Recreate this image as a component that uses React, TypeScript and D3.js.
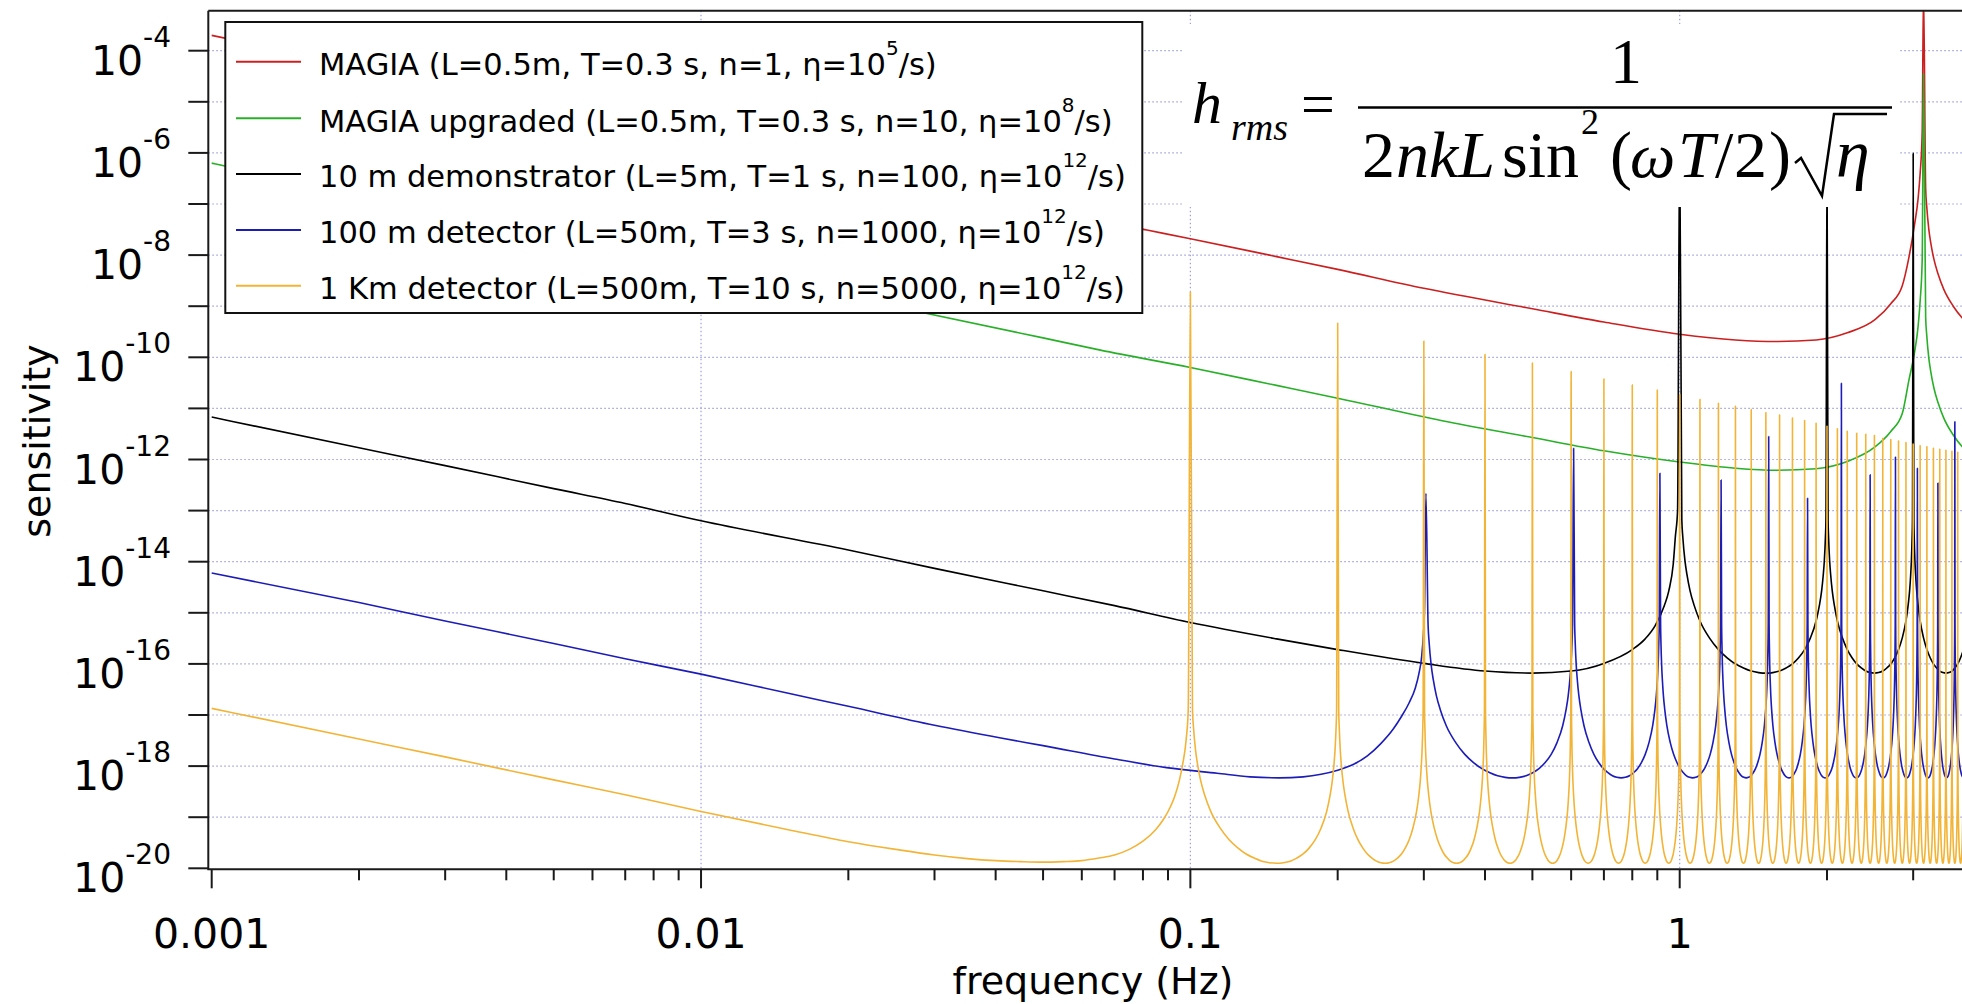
import React from 'react';
import * as d3 from 'd3';

type P = [number, number];

// ---------- tick labels ----------
const xTickValues = [0.001, 0.01, 0.1, 1];
const xTickLabels = ['0.001', '0.01', '0.1', '1'];
const yLabelExps = [-4, -6, -8, -10, -12, -14, -16, -18, -20];
const yTickExps = d3.range(-20, -3);
const yGridExps = d3.range(-19, -3);
const xGridValues = [0.01, 0.1, 1];

// ---------- legend ----------
const seriesNames = [
  'MAGIA (L=0.5m, T=0.3 s, n=1, \u03b7=10',
  'MAGIA upgraded (L=0.5m, T=0.3 s, n=10, \u03b7=10',
  '10 m demonstrator (L=5m, T=1 s, n=100, \u03b7=10',
  '100 m detector (L=50m, T=3 s, n=1000, \u03b7=10',
  '1 Km detector (L=500m, T=10 s, n=5000, \u03b7=10',
];
const seriesSup = ['5', '8', '12', '12', '12'];
const seriesColors = ['#cc2020', '#28b028', '#000000', '#1c1cb8', '#f2b437'];

// ---------- data: [frequency (Hz), log10(sensitivity)] ----------
// shape of one resonance arch: [fraction of peak spacing, rise above valley (decades)]
const archProfile: P[] = [
  [0.01, 3.0], [0.015, 2.65], [0.025, 2.2], [0.035, 1.92], [0.05, 1.61], [0.07, 1.33],
  [0.1, 1.02], [0.15, 0.69], [0.2, 0.46], [0.25, 0.3], [0.3, 0.18], [0.35, 0.1],
  [0.4, 0.04], [0.45, 0.01], [0.5, 0],
];

const redBase: P[] = [
  [0.001, -3.7], [0.002, -4.3], [0.005, -5.1], [0.01, -5.7], [0.02, -6.3], [0.05, -7.1],
  [0.0815, -7.51], [0.1, -7.68], [0.15, -8.03], [0.2, -8.28], [0.3, -8.65], [0.5, -9.05],
  [0.7, -9.31], [1.0, -9.55], [1.3, -9.66], [1.575, -9.69], [1.9, -9.66], [2.2, -9.52],
  [2.51, -9.26], [2.7, -8.95], [2.85, -8.6], [2.94, -8.05], [3.02, -7.4], [3.07, -6.9],
  [3.1, -6.4], [3.13, -5.6],
];
const redPeaks: P[] = [[3.15, -2.8], [6.3, -3.0]];
const redValley = -9.69;

const greenBase: P[] = [
  [0.001, -6.2], [0.002, -6.82], [0.005, -7.62], [0.01, -8.22], [0.02, -8.82], [0.05, -9.62],
  [0.0655, -9.86], [0.1, -10.2], [0.15, -10.55], [0.2, -10.8], [0.327, -11.24], [0.5, -11.57],
  [0.7, -11.83], [1.0, -12.05], [1.3, -12.17], [1.575, -12.21], [1.9, -12.18], [2.2, -12.04],
  [2.51, -11.75], [2.7, -11.45], [2.85, -11.1], [2.94, -10.45], [3.02, -9.9], [3.07, -9.4],
  [3.1, -8.9], [3.13, -8.1],
];
const greenPeaks: P[] = [[3.15, -4.45], [6.3, -4.6]];
const greenValley = -12.21;

const blackBase: P[] = [
  [0.001, -11.17], [0.002, -11.77], [0.003, -12.12], [0.005, -12.57], [0.007, -12.86],
  [0.01, -13.2], [0.02, -13.77], [0.03, -14.13], [0.05, -14.57], [0.07, -14.86], [0.1, -15.19],
  [0.15, -15.51], [0.2, -15.72], [0.3, -15.99], [0.4, -16.14], [0.5, -16.18], [0.6, -16.14],
  [0.7, -15.99], [0.8, -15.72], [0.85, -15.51], [0.891, -15.25], [0.93, -14.86], [0.95, -14.57],
  [0.97, -14.05], [0.98, -13.5], [0.99, -13.0],
];
const blackPeaks: P[] = [[1.0, -5.6], [2.0, -5.9], [3.0, -6.01], [4.0, -6.2]];
const blackValley = -16.18;

const blueBase: P[] = [
  [0.001, -14.22], [0.002, -14.8], [0.003, -15.16], [0.005, -15.6], [0.007, -15.9], [0.01, -16.2],
  [0.015, -16.57], [0.02, -16.83], [0.03, -17.2], [0.041, -17.45], [0.05, -17.6], [0.07, -17.86],
  [0.0894, -18.03], [0.1134, -18.14], [0.1324, -18.21], [0.152, -18.23], [0.17, -18.21],
  [0.185, -18.16], [0.2, -18.08], [0.215, -17.97], [0.23, -17.8], [0.245, -17.56],
  [0.26, -17.27], [0.27, -17.03], [0.28, -16.76], [0.288, -16.48], [0.293, -16.2],
  [0.297, -15.85], [0.299, -15.5], [0.301, -14.9],
];
const bluePeaks: P[] = [
  [0.303, -12.66], [0.607, -11.78], [0.911, -12.27], [1.215, -12.4], [1.52, -11.55],
  [1.825, -12.76], [2.14, -10.51], [2.45, -12.3], [2.76, -11.95], [3.06, -12.17],
  [3.37, -12.46], [3.65, -11.26], [3.96, -12.0],
];
const blueValley = -18.23;

const orangeBase: P[] = [
  [0.001, -16.87], [0.002, -17.47], [0.003, -17.82], [0.005, -18.27], [0.007, -18.56],
  [0.01, -18.89], [0.015, -19.24], [0.02, -19.48], [0.025, -19.63], [0.03, -19.74],
  [0.035, -19.81], [0.04, -19.85], [0.045, -19.87], [0.05, -19.88], [0.055, -19.87],
  [0.06, -19.85], [0.065, -19.8], [0.07, -19.74], [0.075, -19.63], [0.08, -19.47],
  [0.085, -19.24], [0.088, -19.05], [0.091, -18.8], [0.093, -18.58], [0.095, -18.27],
  [0.0965, -17.95], [0.098, -17.5], [0.099, -16.9],
];
const orangePeaks: P[] = [
  [0.1, -8.72], [0.2, -9.33], [0.3, -9.68], [0.4, -9.94], [0.5, -10.11], [0.6, -10.28],
  [0.7, -10.42], [0.8, -10.54], [0.9, -10.64], [1.0, -10.73], [1.1, -10.82], [1.2, -10.9],
  [1.3, -10.96], [1.4, -11.02], [1.5, -11.08], [1.6, -11.13], [1.7, -11.19], [1.8, -11.24],
  [1.9, -11.29], [2.0, -11.35], [2.1, -11.4], [2.2, -11.45], [2.3, -11.48], [2.4, -11.5],
  [2.5, -11.53], [2.6, -11.58], [2.7, -11.61], [2.8, -11.64], [2.9, -11.67], [3.0, -11.7],
  [3.1, -11.73], [3.2, -11.75], [3.3, -11.78], [3.4, -11.8], [3.5, -11.82], [3.6, -11.84],
  [3.7, -11.86], [3.8, -11.88], [3.9, -11.9],
];
const orangeValley = -19.9;

// ---------- geometry ----------
const W = 1962;
const H = 1004;
const frameLeft = 208.3;
const frameTop = 10.7;
const frameBottom = 869.3;
const frameRight = 2300;

const x = d3.scaleLog().domain([1e-3, 1]).range([211.7, 1679.7]);
const y = d3.scaleLog().domain([1e-20, 1e-4]).range([868.3, 50.7]);

function buildSeries(base: P[], peaks: P[], valley: number): P[] {
  const pts: P[] = base.slice();
  peaks.forEach((pk, i) => {
    pts.push(pk);
    const nx = peaks[i + 1];
    if (!nx) return;
    const d = nx[0] - pk[0];
    archProfile.forEach(([u, r]) => pts.push([pk[0] + u * d, valley + r]));
    for (let j = archProfile.length - 2; j >= 0; j--) {
      const [u, r] = archProfile[j];
      pts.push([nx[0] - u * d, valley + r]);
    }
  });
  return pts;
}

const line = d3
  .line<P>()
  .x((d) => x(d[0]))
  .y((d) => y(Math.pow(10, d[1])))
  .curve(d3.curveMonotoneX);

const series = [
  buildSeries(redBase, redPeaks, redValley),
  buildSeries(greenBase, greenPeaks, greenValley),
  buildSeries(blackBase, blackPeaks, blackValley),
  buildSeries(blueBase, bluePeaks, blueValley),
  buildSeries(orangeBase, orangePeaks, orangeValley),
];

const xMinorTicks: { v: number; major: boolean }[] = [];
[-3, -2, -1, 0].forEach((e) => {
  for (let m = 1; m <= 9; m++) {
    const v = m * Math.pow(10, e);
    if (x(v) <= W) xMinorTicks.push({ v, major: m === 1 });
  }
});

const SANS = 'DejaVu Sans, Verdana, sans-serif';
const SERIF = 'Liberation Serif, Times New Roman, serif';

export default function App() {
  const legendRowY = [61.7, 118.3, 174, 230, 285.7];
  return (
    <svg
      width={W}
      height={H}
      viewBox={`0 0 ${W} ${H}`}
      style={{ position: 'absolute', left: 0, top: 0, background: '#fff' }}
    >
      <defs>
        <clipPath id="plotClip">
          <rect x={frameLeft} y={frameTop} width={frameRight - frameLeft} height={frameBottom - frameTop} />
        </clipPath>
      </defs>
      <rect x={0} y={0} width={W} height={H} fill="#fff" />

      {/* grid */}
      <g stroke="#9d9fe2" strokeWidth={1.2} strokeDasharray="1.5,2.5">
        {yGridExps.map((e) => (
          <line key={'hg' + e} x1={frameLeft} x2={frameRight} y1={y(Math.pow(10, e))} y2={y(Math.pow(10, e))} />
        ))}
        {xGridValues.map((v) => (
          <line key={'vg' + v} x1={x(v)} x2={x(v)} y1={frameTop} y2={frameBottom} />
        ))}
      </g>

      {/* curves */}
      <g clipPath="url(#plotClip)" fill="none" strokeWidth={1.6} strokeLinejoin="round">
        {series.map((pts, i) => (
          <path key={'s' + i} d={line(pts) || ''} stroke={seriesColors[i]} />
        ))}
      </g>

      {/* legend */}
      <rect x={225.3} y={22} width={917} height={291} fill="#fff" stroke="#111" strokeWidth={2} />
      {seriesNames.map((name, i) => (
        <g key={'lg' + i}>
          <line x1={236} x2={301} y1={legendRowY[i]} y2={legendRowY[i]} stroke={seriesColors[i]} strokeWidth={2} />
          <text x={319} y={legendRowY[i] + 13.3} fontFamily={SANS} fontSize={30.5} fill="#000">
            {name}
            <tspan dy={-20} fontSize={20}>
              {seriesSup[i]}
            </tspan>
            <tspan dy={20}>/s)</tspan>
          </text>
        </g>
      ))}

      {/* formula */}
      <rect x={1183} y={24} width={716} height={183} fill="#fff" />
      <g fontFamily={SERIF} fill="#000">
        <text x={1192} y={123} fontSize={60} fontStyle="italic">h</text>
        <text x={1231} y={140} fontSize={38} fontStyle="italic">rms</text>
        <text x={1301} y={124} fontSize={60}>=</text>
        <line x1={1358} x2={1892} y1={107.5} y2={107.5} stroke="#000" strokeWidth={2.5} />
        <text x={1626} y={83} fontSize={64} textAnchor="middle">1</text>
        <text x={1362} y={177} fontSize={66}>2</text>
        <text x={1396} y={177} fontSize={66} fontStyle="italic">nkL</text>
        <text x={1502} y={177} fontSize={66}>sin</text>
        <text x={1581} y={134} fontSize={36}>2</text>
        <text x={1610} y={177} fontSize={66}>(</text>
        <text x={1630} y={177} fontSize={64} fontStyle="italic">ω</text>
        <text x={1678} y={177} fontSize={66} fontStyle="italic">T</text>
        <text x={1715} y={177} fontSize={66}>/</text>
        <text x={1734} y={177} fontSize={66}>2</text>
        <text x={1769} y={177} fontSize={66}>)</text>
        <path d="M1795,163 L1801,158 L1822,196 L1834,114 L1887,114" fill="none" stroke="#000" strokeWidth={2.5} />
        <text x={1836} y={177} fontSize={68} fontStyle="italic">η</text>
      </g>

      {/* frame */}
      <g stroke="#1a1a1a" strokeWidth={2} fill="none">
        <line x1={frameLeft} x2={frameRight} y1={frameTop} y2={frameTop} />
        <line x1={frameLeft} x2={frameLeft} y1={frameTop} y2={frameBottom} />
        <line x1={frameLeft - 1} x2={frameRight} y1={frameBottom} y2={frameBottom} />
      </g>

      {/* y ticks */}
      <g stroke="#1a1a1a" strokeWidth={2}>
        {yTickExps.map((e) => (
          <line key={'yt' + e} x1={188.3} x2={frameLeft} y1={y(Math.pow(10, e))} y2={y(Math.pow(10, e))} />
        ))}
      </g>
      {yLabelExps.map((e) => {
        const ty = y(Math.pow(10, e));
        return (
          <text key={'yl' + e} x={171} y={ty + 24} textAnchor="end" fontFamily={SANS} fontSize={41} fill="#000">
            <tspan>10</tspan>
            <tspan dy={-28} fontSize={28}>{String(e)}</tspan>
          </text>
        );
      })}

      {/* x ticks */}
      <g stroke="#1a1a1a" strokeWidth={2}>
        {xMinorTicks.map((t) => (
          <line key={'xt' + t.v} x1={x(t.v)} x2={x(t.v)} y1={frameBottom} y2={frameBottom + (t.major ? 19 : 11)} />
        ))}
      </g>
      {xTickValues.map((v, i) => (
        <text key={'xl' + v} x={x(v)} y={948} textAnchor="middle" fontFamily={SANS} fontSize={41} fill="#000">
          {xTickLabels[i]}
        </text>
      ))}

      {/* axis titles */}
      <text x={1093} y={994} textAnchor="middle" fontFamily={SANS} fontSize={38} fill="#000">
        frequency (Hz)
      </text>
      <text
        transform="translate(50,441) rotate(-90)"
        textAnchor="middle"
        fontFamily={SANS}
        fontSize={38}
        fill="#000"
      >
        sensitivity
      </text>
    </svg>
  );
}
